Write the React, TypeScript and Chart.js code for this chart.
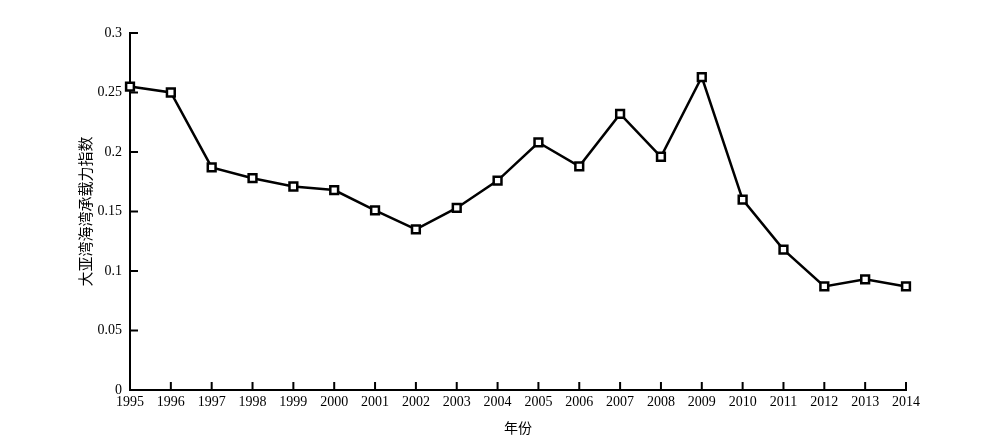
import React, { useEffect, useRef } from "react";
import { Chart, registerables } from "chart.js";

Chart.register(...registerables);

const years = ["1995","1996","1997","1998","1999","2000","2001","2002","2003","2004","2005","2006","2007","2008","2009","2010","2011","2012","2013","2014"];
const capacityIndex = [0.255,0.250,0.187,0.178,0.171,0.168,0.151,0.135,0.153,0.176,0.208,0.188,0.232,0.196,0.263,0.160,0.118,0.087,0.093,0.087];
const yTickValues = [0, 0.05, 0.1, 0.15, 0.2, 0.25, 0.3];
const xTitle = "年份";
const yTitle = "大亚湾海湾承载力指数";

const FONT = "'Liberation Serif', 'Noto Sans CJK SC', serif";

const inwardTicks = {
  id: "inwardTicks",
  afterDraw(chart: any) {
    const ctx = chart.ctx;
    const xs = chart.scales.x;
    const ys = chart.scales.y;
    const len = 8;
    ctx.save();
    ctx.strokeStyle = "#000";
    ctx.lineWidth = 2;
    ctx.beginPath();
    xs.ticks.forEach((_t: any, i: number) => {
      const px = xs.getPixelForTick(i);
      ctx.moveTo(px, xs.top);
      ctx.lineTo(px, xs.top - len);
    });
    ys.ticks.forEach((_t: any, i: number) => {
      const py = ys.getPixelForTick(i);
      ctx.moveTo(ys.right, py);
      ctx.lineTo(ys.right + len, py);
    });
    ctx.stroke();
    ctx.restore();
  },
};

export default function App() {
  const ref = useRef<HTMLCanvasElement>(null);
  useEffect(() => {
    document.body.style.margin = "0";
    const chart = new Chart(ref.current!, {
      type: "line",
      data: {
        labels: years,
        datasets: [
          {
            data: capacityIndex,
            borderColor: "#000",
            borderWidth: 2.5,
            backgroundColor: "#fff",
            pointStyle: "rect",
            pointRadius: 5.5,
            pointBorderWidth: 2.5,
            pointBorderColor: "#000",
            pointBackgroundColor: "#fff",
            tension: 0,
            clip: false as any,
          },
        ],
      },
      options: {
        animation: false,
        responsive: true,
        maintainAspectRatio: false,
        layout: { padding: { left: 0, right: 94, top: 33, bottom: 0 } },
        plugins: { legend: { display: false }, tooltip: { enabled: false } },
        scales: {
          x: {
            type: "category",
            offset: false,
            grid: { display: false, drawTicks: false },
            border: { display: true, color: "#000", width: 2 },
            ticks: { color: "#000", font: { family: FONT, size: 14 }, padding: 4, maxRotation: 0, autoSkip: false },
            title: { display: true, text: xTitle, color: "#000", font: { family: FONT, size: 14 }, padding: { top: 1, bottom: 0 } },
            afterFit(scale: any) { scale.height = 48; },
          },
          y: {
            min: 0,
            max: 0.3,
            afterBuildTicks(scale: any) { scale.ticks = yTickValues.map((v) => ({ value: v })); },
            grid: { display: false, drawTicks: false },
            border: { display: true, color: "#000", width: 2 },
            ticks: {
              color: "#000",
              font: { family: FONT, size: 14 },
              padding: 8,
              callback: (v: any) => String(Number(v)),
            },
            title: { display: true, text: yTitle, color: "#000", font: { family: FONT, size: 15 }, padding: { top: 78, bottom: 0 } },
            afterFit(scale: any) { scale.width = 130; },
          },
        },
      },
      plugins: [inwardTicks],
    });
    return () => chart.destroy();
  }, []);
  return (
    <div style={{ position: "relative", width: 1000, height: 438 }}>
      <canvas ref={ref} />
    </div>
  );
}
